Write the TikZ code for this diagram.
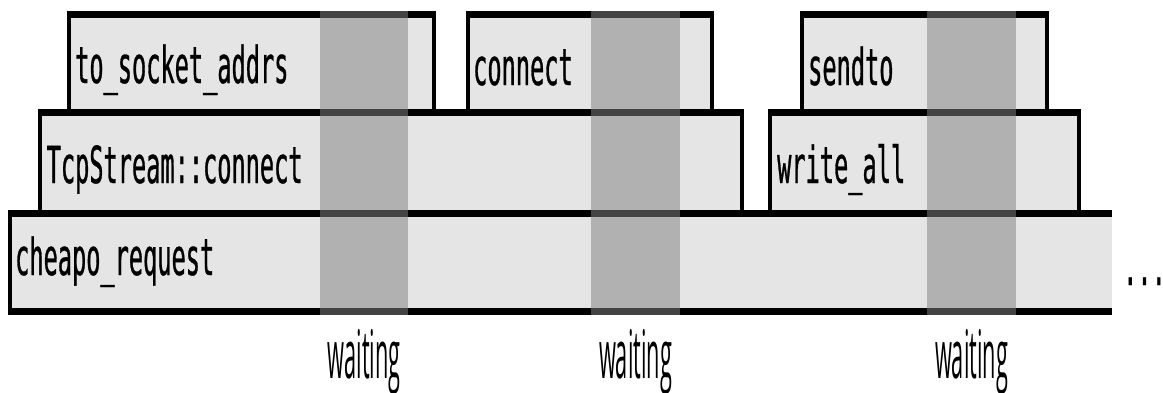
\documentclass[tikz,border=0pt]{standalone}
\usepackage{fontspec}
\usepackage{graphicx}
\newfontfamily\monofont[FakeStretch=0.463,FakeBold=0.6]{DejaVu Sans Mono}
\newfontfamily\waitfont{Open Sans}
\definecolor{boxfill}{gray}{0.9}
\definecolor{bandcol}{gray}{0.51}
\tikzset{
  boxbg/.style={fill=boxfill, draw=none},
  hline/.style={line width=7pt, line cap=butt},
  vline/.style={line width=3.5pt, line cap=butt},
  band/.style={fill=bandcol, fill opacity=0.52, draw=none},
  fname/.style={font=\monofont\fontsize{51}{60}\selectfont, anchor=base west, inner sep=0pt},
  waitlbl/.style={anchor=base, inner sep=0pt}
}
\newcommand\waitword{\resizebox{73pt}{\height}{\waitfont\fontsize{67}{80}\selectfont waiting}}
\begin{document}
\begin{tikzpicture}[x=1pt,y=-1pt]
\useasboundingbox (0,0) rectangle (1163,392);
% box fills
\fill[boxbg] (69,14) rectangle (434,112);
\fill[boxbg] (468,14) rectangle (712,112);
\fill[boxbg] (802,14) rectangle (1047,112);
\fill[boxbg] (40,112) rectangle (742,213);
\fill[boxbg] (770,112) rectangle (1079,213);
\fill[boxbg] (10,213) rectangle (1112,311);
% vertical lines
\draw[vline] (69,14) -- (69,112) (434,14) -- (434,112);
\draw[vline] (468,14) -- (468,112) (712,14) -- (712,112);
\draw[vline] (802,14) -- (802,112) (1047,14) -- (1047,112);
\draw[vline] (40,112) -- (40,213) (742,112) -- (742,213);
\draw[vline] (770,112) -- (770,213) (1079,112) -- (1079,213);
\draw[vline] (10,213) -- (10,311);
% horizontal lines
\draw[hline] (67.25,14) -- (435.75,14);
\draw[hline] (466.25,14) -- (713.75,14);
\draw[hline] (800.25,14) -- (1048.75,14);
\draw[hline] (38.25,112) -- (743.75,112);
\draw[hline] (768.25,112) -- (1080.75,112);
\draw[hline] (8.25,213) -- (1112,213);
\draw[hline] (8.25,311) -- (1112,311);
% waiting bands
\fill[band] (320,10.5) rectangle (408,314.5);
\fill[band] (591,10.5) rectangle (680,314.5);
\fill[band] (927,10.5) rectangle (1016,314.5);
% labels
\node[fname] (tsa) at (75,83) {\detokenize{to_socket_addrs}};
\node[fname] (con) at (473,85) {connect};
\node[fname] (snd) at (808,85) {sendto};
\node[fname] (tcp) at (46.5,183) {TcpStream::connect};
\node[fname] (wra) at (777,183) {\detokenize{write_all}};
\node[fname] (chr) at (15,275) {\detokenize{cheapo_request}};
\node[fname] (dots) at (1123,285) {...\kern-8pt};
\node[waitlbl] (w1) at (364,378) {\waitword};
\node[waitlbl] (w2) at (635.5,378) {\waitword};
\node[waitlbl] (w3) at (971.5,378) {\waitword};
\end{tikzpicture}
\end{document}
